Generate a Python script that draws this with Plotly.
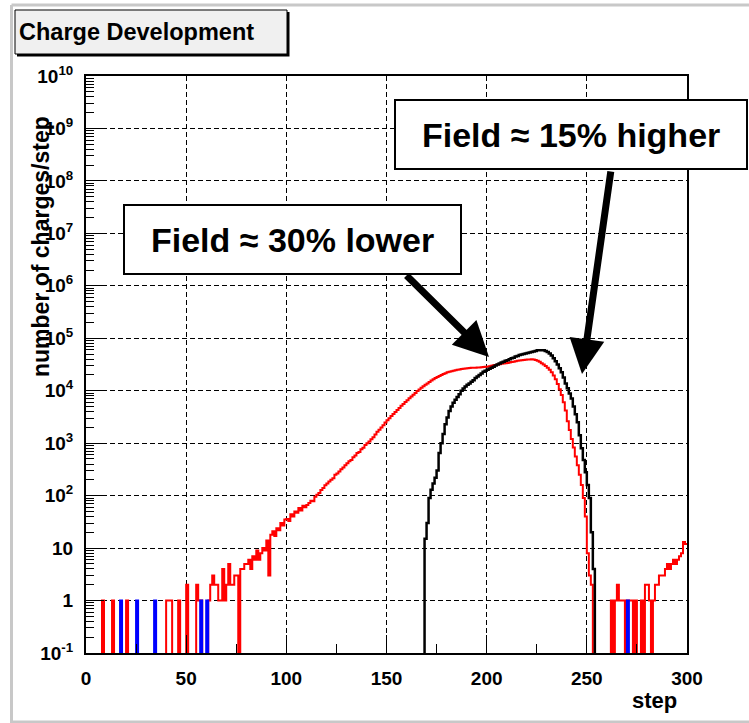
import plotly.graph_objects as go

# ---------------- data ----------------
# histogram bin edges: steps 0..300, one bin per step
n_bins = 300

# Field ~30% lower (red): counts per step, bins 0..299
red_counts = [
    0, 0, 0, 0, 0, 0, 0, 0, 1, 0,
    0, 0, 0, 1, 0, 0, 0, 0, 0, 0,
    1, 0, 0, 0, 0, 0, 0, 0, 0, 0,
    0, 0, 0, 0, 0, 0, 0, 0, 0, 0,
    1, 1, 1, 0, 0, 0, 1, 0, 0, 0,
    2, 0, 0, 0, 0, 2, 1, 1, 0, 0,
    0, 1, 2, 3, 2, 2, 1, 1, 4, 1,
    2, 5, 2, 2, 3, 3, 0, 4, 4, 5,
    5, 6, 4, 7, 6, 9, 6, 8, 10, 9,
    14, 3, 18, 21, 17, 24, 22, 30, 27, 35,
    36, 33, 44, 40, 50, 47, 58, 52, 64, 60,
    66, 72, 80, 78, 95, 104, 112, 128, 140, 158,
    170, 185, 200, 215, 250, 265, 290, 320, 345, 380,
    415, 450, 480, 540, 580, 650, 680, 770, 820, 920,
    1000, 1080, 1190, 1300, 1460, 1650, 1800, 2000, 2200, 2480,
    2750, 3000, 3300, 3600, 3950, 4300, 4700, 5150, 5600, 6100,
    6600, 7200, 7800, 8400, 9100, 9900, 10600, 11400, 12200, 13000,
    13800, 14700, 15600, 16500, 17400, 18200, 19100, 20000, 20800, 21600,
    22400, 23000, 23600, 24100, 24600, 25100, 25500, 25900, 26300, 26600,
    26900, 27100, 27300, 27400, 27500, 27600, 27800, 28000, 28200, 28500,
    28800, 29300, 29900, 30500, 31000, 31600, 32100, 32600, 33100, 33500,
    33900, 34500, 35100, 35700, 36400, 37200, 37700, 38200, 38600, 38900,
    39200, 39500, 39800, 39200, 38500, 37200, 35500, 33500, 31600, 29500,
    27500, 25100, 22400, 19500, 16600, 13500, 10700, 8300, 6000, 4200,
    2630, 1780, 1200, 830, 560, 380, 250, 160, 90, 40,
    8, 3, 2, 0, 0, 0, 0, 0, 0, 0,
    0, 0, 1, 0, 1, 2, 1, 1, 1, 0,
    1, 1, 1, 0, 1, 0, 0, 1, 0, 2,
    2, 1, 0, 1, 2, 2, 3, 3, 3, 4,
    5, 4, 5, 6, 5, 6, 7, 8, 13, 12,
]

# Field ~15% higher (black): first non-empty bin and counts from there on
black_first_bin = 169
black_counts = [
    15, 30, 90, 130, 170, 220, 300, 650, 1000, 1500, 2300,
    3100, 4100, 5000, 5900, 6700, 7600, 8600, 10000, 11000, 12000,
    13000, 13800, 14800, 15800, 17400, 18600, 20000, 21400, 22900, 24000,
    25100, 26300, 27500, 28800, 30200, 31600, 33100, 34700, 35500, 37200,
    38000, 39800, 41700, 42700, 44700, 45700, 47900, 49000, 50100, 51300,
    52500, 53700, 55000, 56200, 57500, 58900, 58900, 58900, 58900, 57500,
    55000, 51300, 46800, 41700, 36300, 31600, 26900, 22400, 17800, 13800,
    11200, 8900, 7100, 5000, 3550, 2500, 1410, 800, 480, 280,
    160, 90, 20, 4,
]

# blue series: isolated single counts
blue_bins = [17, 25, 34, 57, 60, 270]
blue_values = [1, 1, 1, 1, 1, 1]

x_tick_vals = [0, 50, 100, 150, 200, 250, 300]
x_tick_text = ["0", "50", "100", "150", "200", "250", "300"]
x_minor_vals = [25, 75, 125, 175, 225, 275]

y_exponents = list(range(-1, 11))
y_tick_text = ["10<sup>-1</sup>", "1", "10", "10<sup>2</sup>", "10<sup>3</sup>",
               "10<sup>4</sup>", "10<sup>5</sup>", "10<sup>6</sup>", "10<sup>7</sup>",
               "10<sup>8</sup>", "10<sup>9</sup>", "10<sup>10</sup>"]

title_text = "Charge Development"
label_low = "Field \u2248 30% lower"
label_high = "Field \u2248 15% higher"
y_title = "number of charges/step"
x_title = "step"

# ---------------- build histograms ----------------
black_full = [0] * n_bins
for i, v in enumerate(black_counts):
    black_full[black_first_bin + i] = v
blue_full = [0] * n_bins
for b, v in zip(blue_bins, blue_values):
    blue_full[b] = v

edges = list(range(n_bins + 1))
FLOOR = 1e-3  # empty bins drop below the axis, as in the original histogram drawing


def step_y(vals):
    ys = [v if v > 0 else FLOOR for v in vals]
    return ys + [ys[-1]]


# ---------------- geometry (pixels) ----------------
W, H = 749, 723
L, R, T, B = 86, 687, 76, 653


def fx(px):
    return (px - L) / (R - L)


def fy(py):
    return (B - py) / (B - T)


FONT = "Liberation Sans, Arial, Helvetica, sans-serif"

fig = go.Figure()
fig.add_trace(go.Scatter(x=edges, y=step_y(red_counts), mode="lines",
                         line=dict(color="#ff0000", width=2, shape="hv"),
                         showlegend=False))
fig.add_trace(go.Scatter(x=edges, y=step_y(black_full), mode="lines",
                         line=dict(color="#000000", width=2.5, shape="hv"),
                         showlegend=False))
fig.add_trace(go.Scatter(x=edges, y=step_y(blue_full), mode="lines",
                         line=dict(color="#0000ff", width=2, shape="hv"),
                         showlegend=False))

tickfont = dict(family=FONT, size=19, color="black", weight="bold")

fig.update_xaxes(
    range=[0, 300], tickmode="array", tickvals=x_tick_vals, ticktext=x_tick_text,
    ticks="inside", ticklen=18, tickwidth=1, tickcolor="black",
    minor=dict(tickmode="array", tickvals=x_minor_vals, ticks="inside",
               ticklen=9, tickwidth=1, tickcolor="black", showgrid=False),
    showgrid=True, gridcolor="black", gridwidth=1, griddash="5px,3px",
    showline=True, linecolor="black", linewidth=2, mirror=True,
    zeroline=False, tickfont=tickfont, ticklabelstandoff=7,
)
fig.update_yaxes(
    type="log", range=[-1, 10], tickmode="array",
    tickvals=[10.0 ** k for k in y_exponents], ticktext=y_tick_text,
    ticks="inside", ticklen=18, tickwidth=1, tickcolor="black",
    minor=dict(tickmode="array",
               tickvals=[m * 10.0 ** k for k in range(-1, 10) for m in range(2, 10)],
               ticks="inside", ticklen=8, tickwidth=1, tickcolor="black",
               showgrid=False),
    showgrid=True, gridcolor="black", gridwidth=1, griddash="5px,3px",
    showline=True, linecolor="black", linewidth=2, mirror=True,
    zeroline=False, tickfont=tickfont, ticklabelstandoff=7,
)

shapes = []
# canvas border (light grey)
for (x0, y0, x1, y1) in [(11.5, 5, 11.5, 723), (11.5, 5, 760, 5), (11.5, 722, 760, 722)]:
    shapes.append(dict(type="line", xref="paper", yref="paper",
                       x0=fx(x0), y0=fy(y0), x1=fx(x1), y1=fy(y1),
                       line=dict(color="#c8c8c8", width=3), layer="above"))
# title pave with shadow
shapes.append(dict(type="rect", xref="paper", yref="paper",
                   x0=fx(17), y0=fy(12), x1=fx(289.5), y1=fy(56.5),
                   fillcolor="black", line=dict(width=0), layer="above"))
shapes.append(dict(type="rect", xref="paper", yref="paper",
                   x0=fx(15), y0=fy(10), x1=fx(287), y1=fy(54),
                   fillcolor="#f0f0f0", line=dict(color="black", width=1), layer="above"))
# label boxes
shapes.append(dict(type="rect", xref="paper", yref="paper",
                   x0=fx(124), y0=fy(205), x1=fx(461), y1=fy(274),
                   fillcolor="white", line=dict(color="black", width=2), layer="above"))
shapes.append(dict(type="rect", xref="paper", yref="paper",
                   x0=fx(395), y0=fy(100), x1=fx(747), y1=fy(169),
                   fillcolor="white", line=dict(color="black", width=2), layer="above"))

annotations = [
    dict(text=title_text, xref="paper", yref="paper", x=fx(17), y=fy(32),
         xanchor="left", yanchor="middle", showarrow=False,
         font=dict(family=FONT, size=23.5, color="black", weight="bold")),
    dict(text=label_low, xref="paper", yref="paper", x=fx(292.5), y=fy(240),
         xanchor="center", yanchor="middle", showarrow=False,
         font=dict(family=FONT, size=34, color="black", weight="bold")),
    dict(text=label_high, xref="paper", yref="paper", x=fx(571), y=fy(135),
         xanchor="center", yanchor="middle", showarrow=False,
         font=dict(family=FONT, size=34, color="black", weight="bold")),
    dict(text="", xref="paper", yref="paper", x=fx(489), y=fy(357),
         ax=405 - 489, ay=274 - 357, showarrow=True, arrowhead=2,
         arrowwidth=7, arrowsize=1, arrowcolor="black", standoff=0),
    dict(text="", xref="paper", yref="paper", x=fx(582), y=fy(374),
         ax=611 - 582, ay=170 - 374, showarrow=True, arrowhead=2,
         arrowwidth=7, arrowsize=1, arrowcolor="black", standoff=0),
    dict(text=y_title, xref="paper", yref="paper", x=fx(41), y=fy(247),
         xanchor="center", yanchor="middle", textangle=-90, showarrow=False,
         font=dict(family=FONT, size=23, color="black", weight="bold")),
    dict(text=x_title, xref="paper", yref="paper", x=fx(679), y=fy(700),
         xanchor="right", yanchor="middle", showarrow=False,
         font=dict(family=FONT, size=22, color="black", weight="bold")),
]

fig.update_layout(
    width=W, height=H, autosize=False,
    margin=dict(l=L, r=W - R, t=T, b=H - B, pad=0),
    paper_bgcolor="white", plot_bgcolor="white",
    shapes=shapes, annotations=annotations, showlegend=False,
)

fig.write_html("out.html")
